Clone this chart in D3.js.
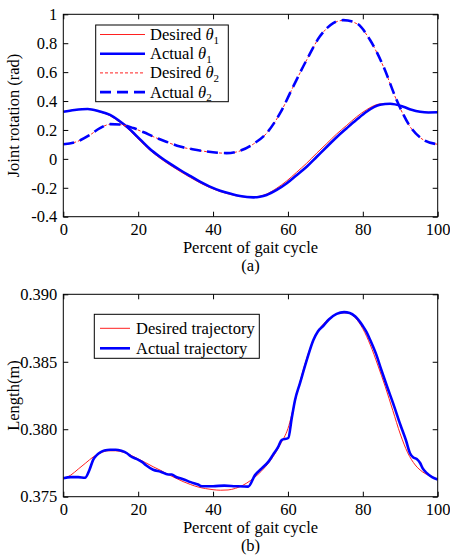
<!DOCTYPE html>
<html><head><meta charset="utf-8">
<script src="https://cdn.jsdelivr.net/npm/d3@7"></script>
<style>body{margin:0;background:#fff}svg{display:block}text{font-family:"Liberation Serif","Times New Roman",serif;fill:#000}</style>
</head><body><svg id="c" width="450" height="558"></svg>
<script>
// ---- Data (a) joint rotation ----
const theta1Actual = [[0,0.326],[3,0.338],[6.5,0.345],[9.5,0.33],[12.5,0.304],[15,0.262],[17,0.222],[20.5,0.135],[23,0.072],[25.8,0.015],[28.5,-0.033],[31.2,-0.077],[34,-0.12],[36.5,-0.158],[39,-0.19],[41.9,-0.22],[44.5,-0.24],[47.2,-0.257],[50.8,-0.266],[52.5,-0.262],[54.3,-0.25],[57,-0.215],[59.7,-0.169],[62.3,-0.113],[65,-0.054],[67.7,0.015],[70.4,0.084],[73,0.15],[75.7,0.212],[78.3,0.27],[81,0.326],[84.6,0.374],[87.3,0.381],[90.8,0.361],[93,0.34],[95.3,0.326],[97.5,0.321],[100,0.322]];
const theta1Desired = [[0,0.327],[3,0.339],[6.5,0.344],[9.5,0.327],[12.5,0.298],[15,0.255],[17,0.214],[20.5,0.125],[23,0.063],[25.8,0.005],[28.5,-0.043],[31.2,-0.087],[34,-0.13],[36.5,-0.166],[39,-0.197],[41.9,-0.226],[44.5,-0.245],[47.2,-0.26],[50.3,-0.266],[52.5,-0.258],[54.3,-0.243],[57,-0.203],[59.7,-0.152],[62.3,-0.093],[65,-0.03],[67.7,0.04],[70.4,0.107],[73,0.172],[75.7,0.232],[78.3,0.29],[81,0.34],[84.6,0.38],[87,0.382],[90.8,0.36],[93,0.339],[95.3,0.326],[97.5,0.321],[100,0.322]];
const theta2Desired = [[0,0.101],[3.6,0.119],[7.1,0.165],[9.8,0.212],[12.5,0.239],[15.1,0.237],[18.7,0.212],[21.5,0.183],[24,0.154],[27.5,0.118],[31.2,0.084],[34.5,0.066],[38.3,0.05],[43.6,0.039],[47.2,0.055],[50.8,0.103],[54.3,0.177],[57.9,0.315],[61.4,0.499],[65,0.684],[68.5,0.845],[72.1,0.938],[74.8,0.958],[78.4,0.935],[81.9,0.822],[85.5,0.638],[89,0.407],[92.6,0.223],[96.2,0.131],[100,0.101]];
const theta2Actual = [[0,0.101],[3.6,0.119],[7.1,0.166],[9.8,0.213],[12.5,0.24],[15.1,0.238],[18.7,0.213],[21.5,0.184],[24,0.155],[27.5,0.119],[31.2,0.085],[34.5,0.067],[38.3,0.051],[43.6,0.04],[47.2,0.056],[50.8,0.104],[54.3,0.178],[57.9,0.316],[61.4,0.5],[65,0.685],[68.5,0.846],[72.1,0.939],[74.8,0.96],[78.4,0.937],[81.9,0.824],[85.5,0.64],[89,0.409],[92.6,0.225],[96.2,0.132],[100,0.101]];
const xTicks = [0,20,40,60,80,100];
const yTicksA = [-0.4,-0.2,0,0.2,0.4,0.6,0.8,1];
const yTickLabelsA = ["-0.4","-0.2","0","0.2","0.4","0.6","0.8","1"];

// ---- Data (b) length ----
const lenDesired = [[0,0.37632],[2,0.3766],[4,0.37705],[6,0.3775],[8,0.37795],[10,0.37825],[12,0.3784],[14,0.3784],[16,0.3783],[18,0.37808],[20,0.3778],[22,0.37752],[24,0.37722],[26,0.37695],[28,0.37665],[30,0.37638],[32,0.37612],[34,0.3759],[36,0.37572],[38,0.3756],[40,0.37552],[42,0.37548],[44,0.3755],[46,0.37562],[48,0.37585],[50,0.3762],[52,0.37665],[54,0.37722],[56,0.37795],[58,0.3789],[60,0.38005],[62,0.3822],[64,0.3843],[66,0.38605],[68,0.38725],[70,0.38795],[72,0.38838],[74,0.38862],[76,0.38862],[78,0.38825],[80,0.38745],[82,0.38625],[84,0.38475],[86,0.38315],[88,0.3814],[90,0.37965],[92,0.37825],[94,0.37735],[96,0.37683],[98,0.37652],[100,0.37628]];
const lenActual = [[0,0.37636],[2,0.37645],[4,0.37645],[5.8,0.3764],[7,0.377],[8,0.37775],[9,0.3781],[10,0.3783],[11,0.37842],[12.5,0.37848],[14,0.37848],[15.5,0.3784],[17,0.37822],[18,0.378],[19.5,0.3778],[21,0.37758],[22,0.37735],[24,0.377],[26,0.37685],[28,0.37665],[29,0.37665],[30,0.37648],[32,0.3763],[34,0.37608],[36,0.3759],[37,0.37578],[40,0.37578],[43,0.37582],[46,0.37578],[49.4,0.37575],[51.2,0.3766],[53,0.3771],[54.8,0.3776],[56,0.3781],[57.4,0.3787],[58.3,0.3792],[60.1,0.37935],[61,0.3808],[61.9,0.38217],[63.2,0.3834],[65,0.3851],[66.8,0.38662],[68,0.38725],[69.4,0.38765],[71,0.38815],[73,0.38855],[75,0.38868],[76.5,0.38862],[78,0.38835],[80,0.38765],[81,0.3872],[82,0.3866],[83.5,0.3856],[85,0.38435],[86.5,0.38315],[88.1,0.38192],[90,0.38035],[91.5,0.3792],[92.6,0.37822],[93.5,0.3779],[94.4,0.3778],[95.3,0.3775],[96,0.3771],[97.1,0.37675],[98.5,0.37645],[100,0.37628]];
const yTicksB = [0.375,0.38,0.385,0.39];

const svg = d3.select("#c");
const FS = 16.5;
const L = 63.3, R = 437.7;

function panel(top, bottom, yDomain, yTicks, yFmt, series, yLabel, xLabel, tag, legend) {
  const g = svg.append("g");
  const x = d3.scaleLinear().domain([0,100]).range([L,R]);
  const y = d3.scaleLinear().domain(yDomain).range([bottom, top]);
  const clip = "clip" + tag.replace(/\W/g,"");
  svg.append("clipPath").attr("id", clip).append("rect").attr("x",L).attr("y",top).attr("width",R-L).attr("height",bottom-top);
  const line = d3.line().x(d=>x(d[0])).y(d=>y(d[1])).curve(d3.curveMonotoneX);
  const lg = g.append("g").attr("clip-path", `url(#${clip})`);
  series.forEach(s => {
    lg.append("path").attr("d", line(s.data)).attr("fill","none").attr("stroke",s.color)
      .attr("stroke-width",s.w).attr("stroke-dasharray",s.dash||null).attr("stroke-linejoin","round");
  });
  // axes with inward ticks
  const ax = g.append("g").attr("transform",`translate(0,${bottom})`)
    .call(d3.axisBottom(x).tickValues(xTicks).tickSizeInner(-5).tickSizeOuter(0).tickFormat(d3.format("d")));
  const axT = g.append("g").attr("transform",`translate(0,${top})`)
    .call(d3.axisTop(x).tickValues(xTicks).tickSizeInner(-5).tickSizeOuter(0).tickFormat(""));
  const ay = g.append("g").attr("transform",`translate(${L},0)`)
    .call(d3.axisLeft(y).tickValues(yTicks).tickSizeInner(-5).tickSizeOuter(0).tickPadding(6).tickFormat(yFmt));
  const ayR = g.append("g").attr("transform",`translate(${R},0)`)
    .call(d3.axisRight(y).tickValues(yTicks).tickSizeInner(-5).tickSizeOuter(0).tickFormat(""));
  [ax,axT,ay,ayR].forEach(a => {
    a.selectAll(".domain").remove();
    a.selectAll("line").attr("stroke","#000").attr("stroke-width",1);
    a.selectAll("text").style("font-family",'"Liberation Serif",serif').style("font-size",FS+"px").attr("fill","#000");
  });
  ax.selectAll("text").attr("dy",null).attr("y",18.5);
  g.append("rect").attr("x",L).attr("y",top).attr("width",R-L).attr("height",bottom-top)
    .attr("fill","none").attr("stroke","#000").attr("stroke-width",1);
  g.append("text").attr("x",(L+R)/2).attr("y",top+239).attr("text-anchor","middle").style("font-size",FS+"px").text(xLabel);
  g.append("text").attr("x",(L+R)/2).attr("y",top+257).attr("text-anchor","middle").style("font-size",FS+"px").text(tag);
  g.append("text").attr("transform",`translate(19,${(top+bottom)/2}) rotate(-90)`).attr("text-anchor","middle")
    .style("font-size",FS+"px").text(yLabel);
  // legend
  const lb = g.append("g");
  lb.append("rect").attr("x",legend.x).attr("y",legend.y).attr("width",legend.w).attr("height",legend.h)
    .attr("fill","#fff").attr("stroke","#000").attr("stroke-width",1);
  series.forEach((s,i) => {
    const cy = legend.y + legend.first + i*legend.step;
    lb.append("line").attr("x1",legend.lx1).attr("x2",legend.lx2).attr("y1",cy).attr("y2",cy)
      .attr("stroke",s.color).attr("stroke-width",s.w).attr("stroke-dasharray",s.dash||null);
    const t = lb.append("text").attr("x",legend.tx).attr("y",cy+5.5).style("font-size",FS+"px");
    t.append("tspan").text(s.name);
    if (s.sub) {
      t.append("tspan").attr("font-style","italic").text(" \u03B8");
      t.append("tspan").attr("dy",3.5).style("font-size","11px").text(s.sub);
    }
  });
}

panel(14.3, 216.7, [-0.4,1], yTicksA, (d,i)=>yTickLabelsA[yTicksA.indexOf(d)],
  [
    {name:"Desired", sub:"1", data:theta1Desired, color:"#ff2020", w:1},
    {name:"Actual", sub:"1", data:theta1Actual, color:"#0000ff", w:2.6},
    {name:"Desired", sub:"2", data:theta2Desired, color:"#ff2020", w:1, dash:"3,2"},
    {name:"Actual", sub:"2", data:theta2Actual, color:"#0000ff", w:2.6, dash:"11,6"}
  ],
  "Joint rotation (rad)", "Percent of gait cycle", "(a)",
  {x:95.7, y:25, w:132.6, h:76.7, first:9.5, step:19.2, lx1:100, lx2:145, tx:150});

panel(294.3, 496.7, [0.375,0.39], yTicksB, d3.format(".3f"),
  [
    {name:"Desired trajectory", data:lenDesired, color:"#ff2020", w:1},
    {name:"Actual trajectory", data:lenActual, color:"#0000ff", w:2.6}
  ],
  "Length(m)", "Percent of gait cycle", "(b)",
  {x:94.3, y:314.3, w:165, h:44, first:14, step:20, lx1:100, lx2:130, tx:136});
</script></body></html>
